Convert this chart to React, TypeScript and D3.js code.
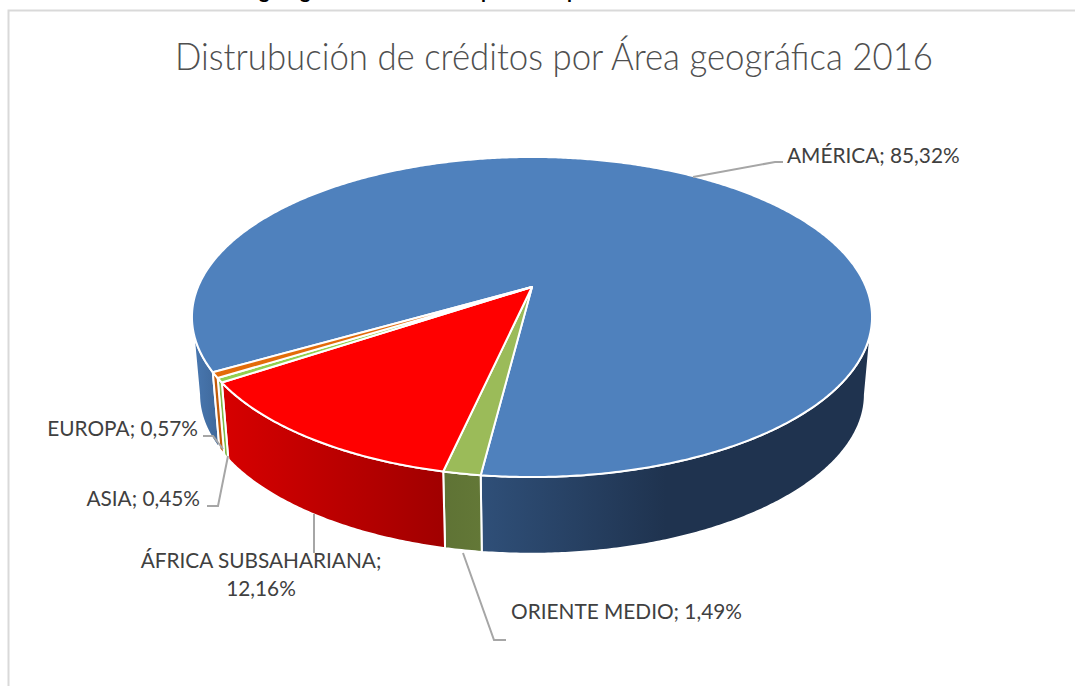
import React from "react";
import * as d3 from "d3";

const categories = ["AMÉRICA", "ORIENTE MEDIO", "ÁFRICA SUBSAHARIANA", "ASIA", "EUROPA"];
const values = [85.32, 1.49, 12.16, 0.45, 0.57];
const valueLabels = ["85,32%", "1,49%", "12,16%", "0,45%", "0,57%"];
const topColors = ["#4f81bd", "#9bbb59", "#ff0000", "#92d050", "#e36c0a"];
const titleText = "Distrubución de créditos por Área geográfica 2016";
const croppedGlyphs = ["g", "g", "p", "p"];

const W = 1075;
const H = 686;
const deg = Math.PI / 180;

// perspective model of the tilted pie
const cx = 532;
const cy = 287;
const persp = 0.1875;
const radX = 334;
const radY = 154.4;
const baseRadX = 327;
const baseCy = 365;
const baseRadY = 151;
const basePersp = 0.2;

const project = (a: number, base: boolean): [number, number] => {
  const X = Math.sin(a);
  const Y = -Math.cos(a);
  const d = 1 - persp * Y;
  if (base) {
    return [cx + (baseRadX * X) / d, baseCy + (baseRadY * Y) / (1 - basePersp * Y)];
  }
  return [cx + (radX * X) / d, cy + (radY * Y) / d];
};

const line = d3.line();
const samples = (a0: number, a1: number) => {
  const n = Math.max(2, Math.ceil(Math.abs(a1 - a0) / (0.5 * deg)));
  return d3.range(n + 1).map((i) => a0 + ((a1 - a0) * i) / n);
};

const pie = d3
  .pie<number>()
  .sort(null)
  .startAngle(240 * deg)
  .endAngle(600 * deg);
const arcs = pie(values);

const wallPath = (a0: number, a1: number) => {
  const s = samples(a0, a1);
  return (
    line([...s.map((a) => project(a, false)), ...s.slice().reverse().map((a) => project(a, true))]) + "Z"
  );
};
const topPath = (a0: number, a1: number) =>
  line([[cx, cy], ...samples(a0, a1).map((a) => project(a, false))]) + "Z";

const wallFills = ["url(#wallBlue)", "url(#wallGreen)", "url(#wallRed)", "#7fb947", "#c25a08"];

// visible wall ranges: between the two silhouette angles of the ring
const wallRanges = (a0: number, a1: number): [number, number][] => {
  const frontStart = 101 * deg;
  const frontEnd = 259 * deg;
  const out: [number, number][] = [];
  for (const k of [0, 1]) {
    const lo = Math.max(a0, frontStart + k * 2 * Math.PI);
    const hi = Math.min(a1, frontEnd + k * 2 * Math.PI);
    if (hi > lo) out.push([lo, hi]);
  }
  return out;
};

const leaders: [number, number][][] = [
  [[693, 177], [775, 162], [783, 162]],
  [[463, 553], [494, 640], [506, 640]],
  [[314, 514], [314, 553]],
  [[228, 456], [218, 506], [207, 506]],
  [[223, 449], [213, 436], [203, 436]],
];
const labelFont = "Lato, 'Open Sans', sans-serif";

export default function App() {
  return (
    <svg
      width={W}
      height={H}
      viewBox={`0 0 ${W} ${H}`}
      style={{ position: "absolute", left: 0, top: 0, display: "block", background: "#fff" }}
    >
      <defs>
        <linearGradient id="wallBlue" gradientUnits="userSpaceOnUse" x1={190} x2={870} y1={0} y2={0}>
          <stop offset="0" stopColor="#4a7ab4" />
          <stop offset="0.05" stopColor="#3d6596" />
          <stop offset="0.43" stopColor="#2f4f78" />
          <stop offset="0.7" stopColor="#1f334f" />
          <stop offset="1" stopColor="#1f334f" />
        </linearGradient>
        <linearGradient id="wallRed" gradientUnits="userSpaceOnUse" x1={225} x2={446} y1={0} y2={0}>
          <stop offset="0" stopColor="#d60000" />
          <stop offset="1" stopColor="#a00000" />
        </linearGradient>
        <linearGradient id="wallGreen" gradientUnits="userSpaceOnUse" x1={444} x2={482} y1={0} y2={0}>
          <stop offset="0" stopColor="#5f7335" />
          <stop offset="1" stopColor="#637837" />
        </linearGradient>
      </defs>

      {/* cropped line of text above the chart frame */}
      {croppedGlyphs.map((g, i) => (
        <text key={i} x={[259, 300, 481, 567][i]} y={-2.5} fontFamily={labelFont} fontWeight={700} fontSize={20} fill="#000">
          {g}
        </text>
      ))}

      <path d={`M${W},10.5H8.5V${H}`} fill="none" stroke="#d9d9d9" strokeWidth={2} />

      <text
        x={554}
        y={70}
        textAnchor="middle"
        fontFamily={labelFont}
        fontWeight={300}
        fontSize={37}
        fill="#4f4f4f"
        textLength={758}
        lengthAdjust="spacingAndGlyphs"
      >
        {titleText}
      </text>

      <g stroke="#fff" strokeWidth={2} strokeLinejoin="round">
        {arcs.map((d, i) =>
          wallRanges(d.startAngle, d.endAngle).map(([a0, a1], j) => (
            <path key={`${i}-${j}`} d={wallPath(a0, a1)} fill={wallFills[i]} />
          ))
        )}
        {arcs.map((d, i) => (
          <path key={i} d={topPath(d.startAngle, d.endAngle)} fill={topColors[i]} />
        ))}
      </g>

      <g fill="none" stroke="#a6a6a6" strokeWidth={2}>
        {leaders.map((l, i) => (
          <path key={i} d={line(l) as string} />
        ))}
      </g>

      <g fontFamily={labelFont} fontSize={20.8} fill="#404040">
        <text x={787} y={163}>{`${categories[0]}; ${valueLabels[0]}`}</text>
        <text x={511} y={619}>{`${categories[1]}; ${valueLabels[1]}`}</text>
        <text x={261} y={568} textAnchor="middle">{`${categories[2]};`}</text>
        <text x={261} y={596} textAnchor="middle">{valueLabels[2]}</text>
        <text x={200} y={506} textAnchor="end">{`${categories[3]}; ${valueLabels[3]}`}</text>
        <text x={198} y={436} textAnchor="end">{`${categories[4]}; ${valueLabels[4]}`}</text>
      </g>
    </svg>
  );
}
